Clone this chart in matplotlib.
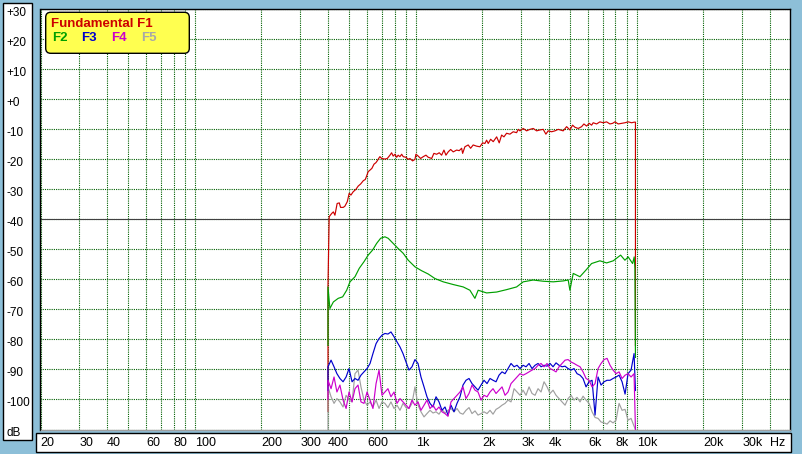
import matplotlib
matplotlib.use("Agg")
import matplotlib.pyplot as plt
from matplotlib.patches import Rectangle, FancyBboxPatch
from matplotlib.transforms import IdentityTransform, ScaledTranslation
from matplotlib.ticker import NullFormatter

plt.rcParams["font.family"] = ["Liberation Sans Narrow", "Liberation Sans", "DejaVu Sans"]

# fundamental (Hz, dB)
f1_freq = [400, 400, 405, 416, 423, 430, 440, 450, 456, 469, 477, 489, 499, 508, 520, 535, 548, 562, 578, 590,
           598, 608, 619, 632, 646, 659, 668, 678, 687, 700, 724, 742, 763, 776, 789, 804, 818, 831, 846, 862,
           876, 901, 923, 939, 966, 990, 1000, 1024, 1050, 1079, 1110, 1137, 1178, 1206, 1241, 1275, 1307, 1339,
           1367, 1400, 1436, 1475, 1529, 1570, 1610, 1627, 1666, 1724, 1768, 1816, 1882, 1948, 2004, 2052, 2089,
           2124, 2178, 2238, 2319, 2382, 2442, 2502, 2572, 2663, 2756, 2855, 2904, 2956, 3059, 3169, 3281, 3395,
           3518, 3640, 3767, 3874, 3968, 4112, 4256, 4405, 4640, 4807, 4975, 5117, 5242, 5425, 5621, 5757, 5921,
           6084, 6237, 6343, 6571, 6801, 7039, 7293, 7548, 7763, 7954, 8232, 8529, 8826, 9134, 9463, 9723, 9850,
           9850]
f1_db = [-104, -62, -39.1, -38.0, -37.5, -38.6, -34.7, -34.5, -36.0, -36.0, -35.6, -34.1, -31.3, -31.9, -30.8,
         -30.0, -28.9, -28.2, -27.1, -26.7, -25.6, -24.1, -23.6, -23.0, -21.6, -21.1, -20.5, -19.7, -19.1, -19.7,
         -19.9, -19.7, -18.6, -17.8, -18.9, -18.3, -19.3, -18.6, -19.1, -18.3, -19.1, -19.3, -20.0, -19.7, -20.5,
         -20.0, -18.3, -18.9, -19.7, -19.1, -18.6, -19.3, -19.7, -18.0, -18.3, -17.8, -18.6, -16.9, -18.6, -17.5,
         -16.7, -17.5, -16.9, -17.1, -16.3, -18.0, -15.8, -15.2, -16.3, -15.2, -15.6, -15.8, -14.5, -14.7, -13.6,
         -14.7, -13.3, -14.1, -12.5, -14.5, -11.9, -12.5, -11.3, -11.6, -10.8, -11.1, -10.0, -10.5, -9.7, -10.5,
         -10.0, -9.7, -10.5, -10.2, -10.0, -11.6, -10.5, -10.8, -10.5, -10.0, -10.5, -9.1, -10.2, -8.6, -9.3,
         -9.7, -9.1, -8.2, -8.9, -8.0, -8.6, -7.8, -8.2, -7.5, -7.8, -7.5, -8.2, -8.0, -7.5, -8.2, -8.0, -7.8,
         -7.5, -7.8, -7.6, -7.6, -82]

# 2nd harmonic (Hz, dB)
f2_freq = [400, 400, 408, 423, 445, 466, 486, 503, 530, 554, 582, 608, 637, 664, 692, 724, 749, 789, 831, 876,
           923, 990, 1061, 1137, 1219, 1329, 1475, 1637, 1755, 1849, 1913, 2089, 2319, 2572, 2855, 3059, 3395, 3767,
           4181, 4640, 4888, 4975, 5150, 5522, 5878, 6237, 6801, 7293, 7814, 8440, 8826, 9134, 9561, 9723, 9795, 9850]
f2_db = [-82, -62.5, -69.7, -67.5, -66.3, -65.8, -63.6, -60.8, -59.1, -56.3, -54.1, -51.9, -50.2, -48, -46.3, -45.8,
         -46.3, -48, -49.7, -51.3, -53.6, -55.8, -57.1, -58.2, -59.7, -60.8, -61.7, -62.5, -63.6, -66.3, -63.6, -64.5,
         -64.2, -63.4, -62.5, -60.8, -60.2, -60.6, -60.8, -60.5, -60.2, -63.6, -58, -59.1, -56.9, -54.7, -53.8, -54.5,
         -53.8, -51.9, -53.6, -52.5, -54.7, -52.5, -56.3, -86]

# common frequency bins for the higher harmonics (Hz)
hf_freq = [400, 413, 426, 439, 453, 468, 483, 498, 514, 530, 547, 564, 582, 601, 620, 639, 660, 681, 702, 724,
           747, 771, 796, 821, 847, 874, 902, 930, 960, 990, 1022, 1054, 1088, 1122, 1158, 1195, 1233, 1272, 1312,
           1354, 1397, 1441, 1487, 1534, 1583, 1633, 1685, 1739, 1794, 1851, 1910, 1971, 2033, 2098, 2164, 2233,
           2304, 2377, 2453, 2531, 2611, 2694, 2780, 2868, 2959, 3053, 3150, 3250, 3353, 3460, 3570, 3683, 3800,
           3921, 4045, 4174, 4306, 4443, 4584, 4730, 4880, 5035, 5195, 5360, 5530, 5706, 5887, 6074, 6267, 6466,
           6671, 6883, 7102, 7328, 7560, 7800, 8048, 8304, 8568, 8840, 9120, 9410, 9709]
f3_db = [-89.1, -86.9, -89.1, -91.4, -93.0, -94.1, -92.5, -89.7, -94.1, -93.0, -93.6, -91.9, -90.8, -89.7, -88.0,
         -84.7, -81.4, -79.7, -78.6, -78.0, -78.2, -77.5, -79.1, -80.8, -82.5, -84.7, -87.5, -90.2, -89.1, -86.7,
         -88.0, -92.5, -95.8, -99.1, -101.3, -102.5, -99.1, -100.8, -103.6, -102.5, -105.2, -101.9, -104.1, -101.3,
         -99.1, -95.2, -93.6, -93.0, -94.7, -95.8, -96.9, -95.2, -93.6, -94.7, -93.0, -93.6, -94.1, -91.9, -90.8,
         -91.4, -89.7, -88.0, -89.1, -88.6, -89.7, -88.6, -89.1, -88.0, -89.7, -88.6, -88.0, -89.1, -88.6, -88.9,
         -88.0, -89.1, -87.8, -88.6, -89.1, -88.9, -89.7, -90.2, -89.7, -91.4, -91.9, -93.0, -95.8, -94.1, -93.6,
         -105.2, -92.5, -95.2, -94.1, -93.6, -93.6, -93.0, -92.5, -91.9, -94.1, -98.2, -91.4, -90.2, -84.7]
f4_db = [-93.6, -96.4, -92.5, -97.5, -95.2, -100.2, -103.0, -97.5, -100.8, -96.4, -95.2, -100.8, -101.3, -97.5,
         -100.2, -103.0, -94.7, -90.2, -98.6, -97.5, -96.4, -99.1, -97.5, -101.3, -99.7, -100.8, -101.9, -103.0,
         -100.2, -101.9, -100.8, -103.6, -101.9, -100.2, -103.0, -101.9, -103.6, -102.5, -104.1, -104.7, -105.6,
         -100.8, -99.7, -98.6, -97.5, -95.8, -99.7, -98.0, -95.2, -96.9, -97.5, -100.2, -98.6, -99.1, -97.5, -96.4,
         -98.0, -96.9, -95.8, -98.6, -97.5, -94.7, -93.6, -92.5, -91.4, -91.9, -91.4, -90.8, -90.2, -89.7, -88.6,
         -88.0, -89.1, -88.0, -89.7, -90.2, -90.8, -89.1, -88.0, -86.9, -86.7, -87.5, -88.0, -88.6, -89.1, -90.8,
         -93.0, -93.6, -95.8, -94.7, -89.7, -88.0, -86.7, -86.3, -88.6, -90.2, -91.4, -90.8, -93.0, -91.9, -91.4,
         -92.5, -91.4]
f5_db = [-95.8, -99.1, -101.3, -99.7, -100.8, -102.5, -98.6, -100.2, -100.8, -91.4, -90.2, -95.8, -100.2, -101.9,
         -100.8, -102.5, -100.2, -103.0, -100.8, -101.3, -102.7, -100.8, -103.0, -101.9, -103.6, -101.3, -102.7,
         -103.0, -101.3, -95.8, -101.9, -104.1, -105.8, -104.7, -103.6, -104.5, -104.1, -104.9, -103.3, -104.5,
         -103.6, -103.0, -104.1, -103.0, -104.5, -104.9, -103.6, -102.7, -104.7, -103.8, -105.2, -104.7, -104.1,
         -104.7, -103.6, -104.9, -103.3, -102.7, -101.9, -101.3, -100.2, -100.8, -96.4, -97.5, -98.6, -96.9, -98.6,
         -95.8, -98.0, -98.6, -96.4, -97.5, -94.1, -95.8, -98.0, -96.9, -98.6, -99.7, -100.8, -101.9, -99.7, -98.6,
         -100.2, -99.3, -100.8, -98.9, -100.2, -101.3, -104.1, -106.0, -106.3, -107.5, -107.8, -108.2, -107.1,
         -107.8, -106.9, -101.3, -103.6, -103.3, -106.9, -106.3, -108.9]
# level at the band edges (start, end)
f3_edges = [-97, -97]
f4_edges = [-100, -110]
f5_edges = [-110, -110]
band_edges = [400, 9850]

x_label_freqs = [20, 30, 40, 60, 80, 100, 200, 300, 400, 600, 1000, 2000, 3000, 4000, 6000, 8000, 10000,
                 20000, 30000, 40000]
x_labels = ["20", "30", "40", "60", "80", "100", "200", "300", "400", "600", "1k", "2k", "3k", "4k", "6k",
            "8k", "10k", "20k", "30k", "Hz"]
x_minor_freqs = [50, 70, 90, 500, 700, 800, 900, 5000, 7000, 9000]
y_ticks = [-110, -100, -90, -80, -70, -60, -50, -40, -30, -20, -10, 0, 10, 20, 30]
y_labels = ["dB", "-100", "-90", "-80", "-70", "-60", "-50", "-40", "-30", "-20", "-10", "+0", "+10", "+20", "+30"]

W, H = 803, 454
bg = "#8DBFD8"
fig = plt.figure(figsize=(W / 100, H / 100), dpi=100, facecolor=bg)

# white label panels
fig.add_artist(Rectangle((3 / W, 1 - 440 / H), 29 / W, 437 / H, transform=fig.transFigure,
                         facecolor="white", edgecolor="black", lw=1.0, zorder=-1))
fig.add_artist(Rectangle((36 / W, 1 - 452 / H), 755 / W, 19 / H, transform=fig.transFigure,
                         facecolor="white", edgecolor="black", lw=1.0, zorder=-1))

ax = fig.add_axes([40.5 / W, 1 - 429.5 / H, (790 - 40.5) / W, (429.5 - 9.3) / H])
ax.set_facecolor("white")
ax.set_xscale("log")
ax.set_xlim(20, 49300)
ax.set_ylim(-110, 30)

ax.set_xticks(x_label_freqs, x_labels)
ax.set_xticks(x_minor_freqs, minor=True)
ax.xaxis.set_minor_formatter(NullFormatter())
ax.set_yticks(y_ticks, y_labels)
ax.tick_params(which="both", length=0)
ax.tick_params(axis="x", pad=5.6, labelsize=9)
ax.tick_params(axis="y", pad=24.5, labelsize=8.5)
for lab in ax.get_xticklabels():
    lab.set_horizontalalignment("left")
for lab in ax.get_yticklabels():
    lab.set_horizontalalignment("left")
    lab.set_transform(lab.get_transform() + ScaledTranslation(0, -2 / 100, fig.dpi_scale_trans))

ax.grid(True, which="both", color="#006000", lw=0.8, linestyle=(0, (1, 1)))
ax.axhline(-40, color="#404040", lw=0.8, zorder=1.5)
ax.set_axisbelow(True)

for side in ("left", "top", "right"):
    ax.spines[side].set_color("black")
    ax.spines[side].set_linewidth(1.0)
ax.spines["bottom"].set_color("#a0a0a0")
ax.spines["bottom"].set_linewidth(1.0)

hf_x = band_edges[:1] + hf_freq + band_edges[1:]
ax.plot(f1_freq, f1_db, color="#CC0000", lw=0.85, zorder=3)
ax.plot(f2_freq, f2_db, color="#00A000", lw=0.85, zorder=4)
ax.plot(hf_x, f5_edges[:1] + f5_db + f5_edges[1:], color="#A0A0A0", lw=0.85, zorder=4.5)
ax.plot(hf_x, f3_edges[:1] + f3_db + f3_edges[1:], color="#0000CC", lw=0.85, zorder=5)
ax.plot(hf_x, f4_edges[:1] + f4_db + f4_edges[1:], color="#CC00CC", lw=0.85, zorder=6)

# legend box
leg = FancyBboxPatch((45.7, H - 53.3), 143.6, 41, boxstyle="round,pad=0,rounding_size=5",
                     transform=IdentityTransform(), facecolor="#FFFF50", edgecolor="black", lw=1.0, zorder=5)
fig.add_artist(leg)
lfont = dict(fontsize=9.5, fontweight="bold", family=["Liberation Sans", "DejaVu Sans"], va="baseline", zorder=6)
fig.text(50.7 / W, 1 - 26.7 / H, "Fundamental F1", color="#CC0000", **lfont)
fig.text(51.7 / W, 1 - 41 / H, "F2", color="#00A000", **lfont)
fig.text(80.7 / W, 1 - 41 / H, "F3", color="#0000CC", **lfont)
fig.text(110.7 / W, 1 - 41 / H, "F4", color="#CC00CC", **lfont)
fig.text(140.7 / W, 1 - 41 / H, "F5", color="#A8A8A8", **lfont)

fig.savefig("out.png", dpi=100, facecolor=bg)
